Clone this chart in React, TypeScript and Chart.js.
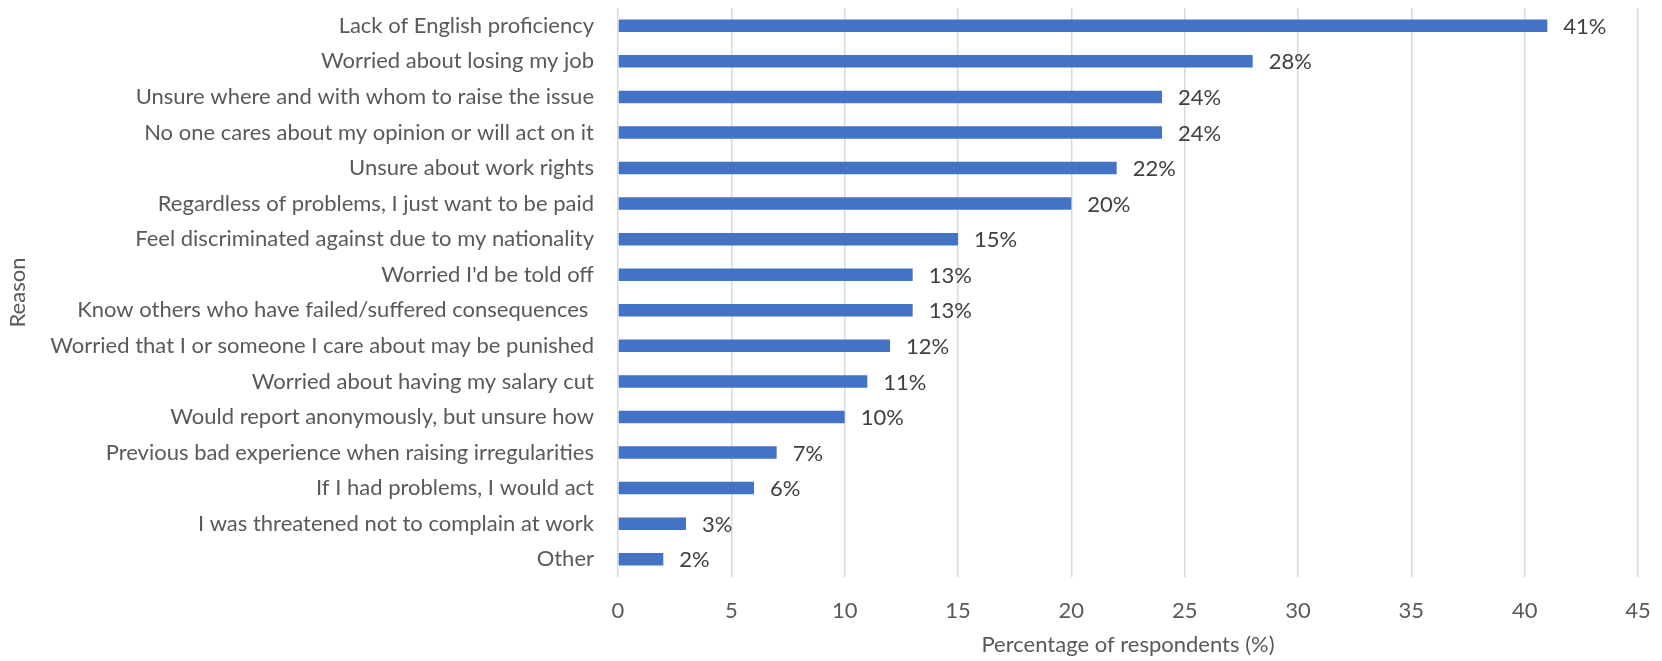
import React, { useEffect, useRef } from "react";
import { Chart, registerables } from "chart.js";

Chart.register(...registerables);

const categories: string[] = [
  "Lack of English proficiency",
  "Worried about losing my job",
  "Unsure where and with whom to raise the issue",
  "No one cares about my opinion or will act on it",
  "Unsure about work rights",
  "Regardless of problems, I just want to be paid",
  "Feel discriminated against due to my nationality",
  "Worried I'd be told off",
  "Know others who have failed/suffered consequences ",
  "Worried that I or someone I care about may be punished",
  "Worried about having my salary cut",
  "Would report anonymously, but unsure how",
  "Previous bad experience when raising irregularities",
  "If I had problems, I would act",
  "I was threatened not to complain at work",
  "Other",
];

const percentages: number[] = [41, 28, 24, 24, 22, 20, 15, 13, 13, 12, 11, 10, 7, 6, 3, 2];

const xTicksMin = 0;
const xTicksMax = 45;
const xTickStep = 5;

const xTitle = "Percentage of respondents (%)";
const yTitle = "Reason";

const FONT = "Lato";
const FS = 22;

const valueLabelPlugin = {
  id: "valueLabels",
  afterDatasetsDraw(chart: any) {
    const { ctx } = chart;
    const meta = chart.getDatasetMeta(0);
    ctx.save();
    ctx.font = `${FS}px ${FONT}`;
    ctx.fillStyle = "#404040";
    ctx.textAlign = "left";
    ctx.textBaseline = "middle";
    meta.data.forEach((bar: any, i: number) => {
      ctx.fillText(`${percentages[i]}%`, bar.x + 16, bar.y + 1);
    });
    ctx.restore();
  },
};

export default function App() {
  const canvasRef = useRef<HTMLCanvasElement | null>(null);

  useEffect(() => {
    if (!canvasRef.current) return;
    const chart = new Chart(canvasRef.current, {
      type: "bar",
      data: {
        labels: categories,
        datasets: [
          {
            data: percentages,
            backgroundColor: "#4472C4",
            borderWidth: 0,
            barPercentage: 0.35,
            categoryPercentage: 1,
          },
        ],
      },
      options: {
        indexAxis: "y",
        animation: false,
        responsive: true,
        maintainAspectRatio: false,
        layout: { padding: { left: 0, right: 24, top: 8, bottom: 0 } },
        plugins: {
          legend: { display: false },
          tooltip: { enabled: false },
        },
        scales: {
          x: {
            min: xTicksMin,
            max: xTicksMax,
            ticks: {
              stepSize: xTickStep,
              color: "#595959",
              font: { family: FONT, size: FS },
              padding: 21,
              maxRotation: 0,
            },
            grid: { color: "#D9D9D9", lineWidth: 1.5, drawTicks: false },
            border: { display: false },
            title: {
              display: true,
              text: xTitle,
              color: "#595959",
              font: { family: FONT, size: FS },
              padding: { top: 0, bottom: 3 },
            },
            afterFit(scale: any) {
              scale.height = 84;
              scale.paddingLeft = 0;
              scale.paddingRight = 0;
            },
          },
          y: {
            ticks: {
              color: "#595959",
              font: { family: FONT, size: FS },
              padding: 24,
              autoSkip: false,
            },
            grid: { display: false, drawTicks: false },
            border: { display: false },
            title: {
              display: true,
              text: yTitle,
              color: "#595959",
              font: { family: FONT, size: FS },
              padding: { top: 5, bottom: 0 },
            },
            afterFit(scale: any) {
              scale.width = 618;
              scale.paddingTop = 0;
              scale.paddingBottom = 0;
            },
          },
        },
      },
      plugins: [valueLabelPlugin],
    });
    return () => chart.destroy();
  }, []);

  return (
    <div style={{ position: "fixed", left: 0, top: 0, width: 1662, height: 661, background: "#fff" }}>
      <canvas ref={canvasRef} />
    </div>
  );
}
